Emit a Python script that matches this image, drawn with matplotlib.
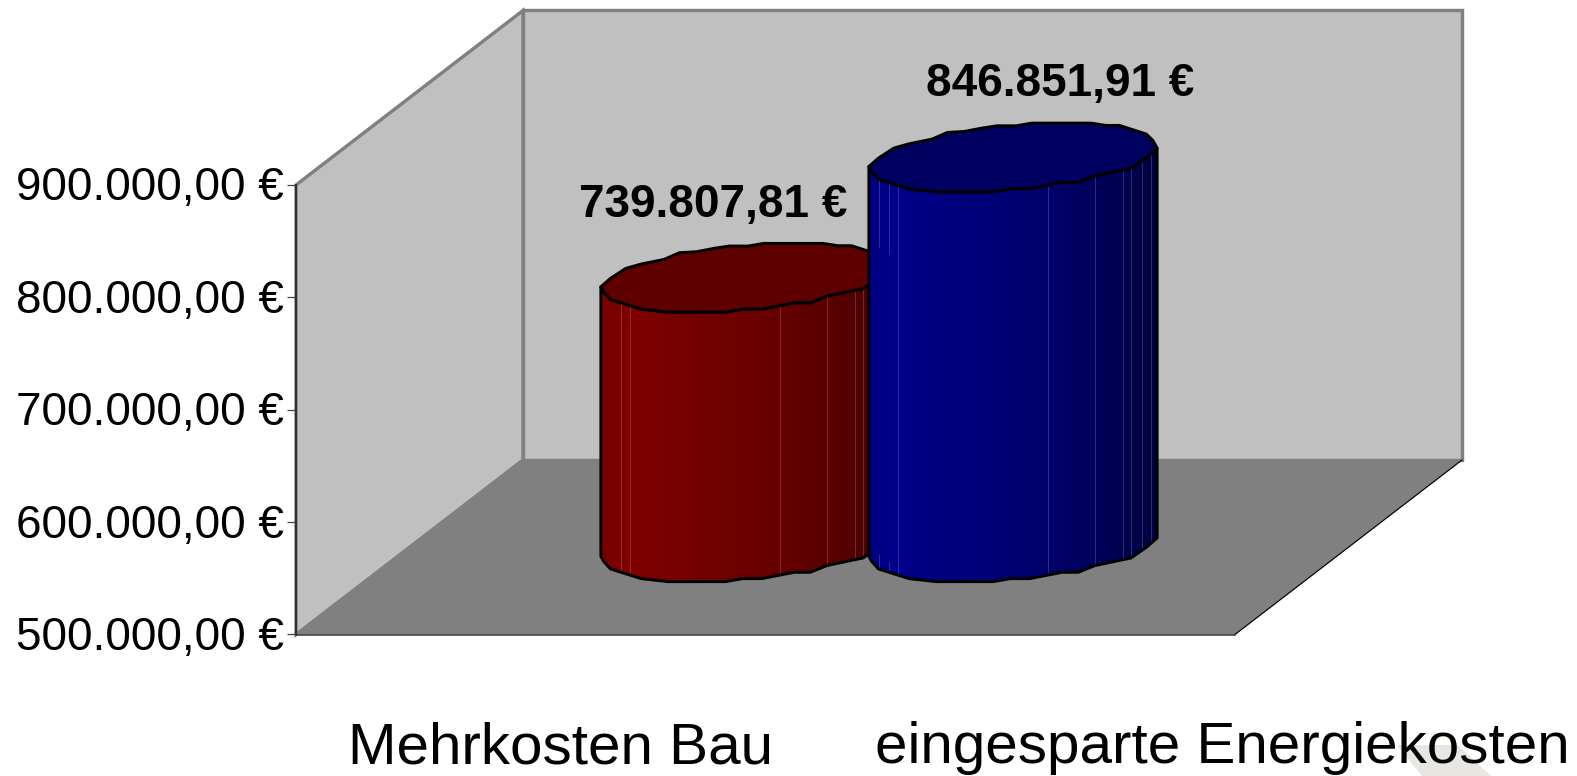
import numpy as np
import matplotlib
matplotlib.use("Agg")
import matplotlib.pyplot as plt
from matplotlib.colors import LinearSegmentedColormap
from matplotlib.patches import Polygon
from matplotlib.transforms import ScaledTranslation

plt.rcParams['font.family'] = ['Liberation Sans', 'DejaVu Sans']

# --- data -----------------------------------------------------------------
categories = ["Mehrkosten Bau", "eingesparte Energiekosten"]
values = [739807.81, 846851.91]
value_labels = ["739.807,81 €", "846.851,91 €"]
y_ticks = [500000, 600000, 700000, 800000, 900000]
y_tick_labels = ["500.000,00 €", "600.000,00 €", "700.000,00 €", "800.000,00 €", "900.000,00 €"]

# --- layout (pixels of the 1577x776 canvas) -------------------------------
W, H = 1577, 776
LEFT, RIGHT, TOP, BOTTOM = 296, 1235, 185, 634.5
DEPTH_X, DEPTH_Y = 227, 174.5
CENTERS = [745, 1013]
LABEL_POS = [(713, 205), (1060, 84)]
CAT_X = [560, 1222]
SHADES = [
    [(0, '#780000'), (0.1, '#800000'), (0.62, '#660000'), (0.88, '#520000'), (1, '#400000')],
    [(0, '#000084'), (0.1, '#00008a'), (0.62, '#00006a'), (0.88, '#000052'), (1, '#000040')],
]
TOP_COLORS = ['#5f0000', '#000060']
# irregular cylinder rim (zoomed crop units)
RIM = np.array([(755,170),(762,185),(780,208),(860,237),(930,246),(1080,246),(1125,237),(1175,237),
                (1260,218),(1302,218),(1345,198),(1440,175),(1480,143),(1508,115),
                (1497,92),(1480,73),(1410,47),(1375,47),(1335,40),(1180,40),(1140,48),(1090,48),
                (1050,55),(1005,65),(960,68),(920,88),(860,102),(820,115),(780,145)], float)
N_FRONT = 14  # the first points form the front edge
RIM_X = (RIM[:, 0] - 1131.5) / 2.613
RIM_Y = (143 - RIM[:, 1]) / 3
FACETS = [27, 52, 75, 467, 590, 663, 686, 713, 736]

fig = plt.figure(figsize=(W / 100, H / 100), dpi=100, facecolor='white')
ax = fig.add_axes([LEFT / W, 1 - BOTTOM / H, (RIGHT - LEFT) / W, (BOTTOM - TOP) / H])
ax.set_facecolor('none')
xlim = (LEFT, RIGHT)
ylim = (y_ticks[0], y_ticks[-1])
EUR_PER_PX = (ylim[1] - ylim[0]) / (BOTTOM - TOP)


def up(value, px):
    """value shifted up by a number of pixels"""
    return value + px * EUR_PER_PX


px2pt = 72 / 100
vmin, vmax = ylim

# watermark in the corner
fig.add_artist(Polygon([(1397 / W, 1 - 745 / H), (1458 / W, 1 - 745 / H), (1491 / W, 1 - 776 / H),
                        (1422 / W, 1 - 776 / H)], closed=True, fc='#e8e6e1', ec='none',
                       transform=fig.transFigure, zorder=0))

# walls and floor
bl = (LEFT, vmin)
tl = (LEFT, vmax)
bb = (LEFT + DEPTH_X, up(vmin, DEPTH_Y))
tb = (LEFT + DEPTH_X, up(vmax, DEPTH_Y))
br = (RIGHT + DEPTH_X, up(vmin, DEPTH_Y))
tr = (RIGHT + DEPTH_X, up(vmax, DEPTH_Y))
fr = (RIGHT, vmin)
kw = dict(clip_on=False, joinstyle='miter')
ax.add_patch(Polygon([bb, tb, tr, br], fc='#c0c0c0', ec='#808080', lw=3.4 * px2pt, zorder=1, **kw))
ax.add_patch(Polygon([bl, tl, tb, bb], fc='#c0c0c0', ec='#808080', lw=3.4 * px2pt, zorder=1.1, **kw))
ax.add_patch(Polygon([bl, bb, br, fr], fc='#808080', ec='none', zorder=1.2, **kw))
ax.plot([fr[0], br[0]], [fr[1], br[1]], color='black', lw=1.2 * px2pt, clip_on=False, zorder=1.3)

# cylinders
for i, (cx, val) in enumerate(zip(CENTERS, values)):
    z = 3 + i
    top_c = up(val, DEPTH_Y / 2)
    bot_c = up(vmin, DEPTH_Y / 2)
    fx = cx + RIM_X[:N_FRONT]
    fy = RIM_Y[:N_FRONT]
    body = np.vstack([np.column_stack([fx, up(top_c, fy)]),
                      np.column_stack([fx[::-1], up(bot_c, fy[::-1])])])
    cmap = LinearSegmentedColormap.from_list(f's{i}', SHADES[i])
    im = ax.imshow(np.linspace(0, 1, 300)[None, :], cmap=cmap, vmin=0, vmax=1, aspect='auto',
                   extent=[fx[0], fx[-1], bot_c - 40 * EUR_PER_PX, top_c + 40 * EUR_PER_PX],
                   interpolation='bilinear', zorder=z)
    clip = Polygon(body, closed=True, transform=ax.transData)
    im.set_clip_box(fig.bbox)
    im.set_clip_path(clip)
    # faint facet lines
    for off in FACETS:
        x = fx[0] + off / 2.613
        if i == 0 and off == FACETS[0]:
            continue
        y0 = up(top_c, np.interp(x, fx, fy))
        y1 = up(bot_c, np.interp(x, fx, fy))
        if i == 1 and off in FACETS[:2]:
            # the two left lines are broken on the blue body
            gap = 14 if off == FACETS[0] else 10
            ax.plot([x, x], [y0, up(y0, -68 if off == FACETS[0] else -72)], color='white', alpha=0.22,
                    lw=0.8 * px2pt, clip_on=False, zorder=z + 0.1)
            ax.plot([x, x], [up(y1, gap), y1], color='white', alpha=0.22,
                    lw=0.8 * px2pt, clip_on=False, zorder=z + 0.1)
        else:
            ax.plot([x, x], [y0, y1], color='white', alpha=0.22,
                    lw=0.8 * px2pt, clip_on=False, zorder=z + 0.1)
    # body outline and top
    ax.add_patch(Polygon(body, closed=True, fc='none', ec='black', lw=3 * px2pt,
                         clip_on=False, zorder=z + 0.2, joinstyle='round'))
    ax.add_patch(Polygon(np.column_stack([cx + RIM_X, up(top_c, RIM_Y)]), closed=True,
                         fc=TOP_COLORS[i], ec='black', lw=3 * px2pt,
                         clip_on=False, zorder=z + 0.3, joinstyle='round'))

# value labels
for (lx, ly), txt in zip(LABEL_POS, value_labels):
    ax.text(lx, up(vmin, BOTTOM - ly), txt, ha='center', va='center', fontsize=33,
            fontweight='bold', color='black', zorder=10, clip_on=False)

# axes
ax.set_xlim(*xlim)
ax.set_ylim(*ylim)
ax.set_yticks(y_ticks)
ax.set_yticklabels(y_tick_labels, fontsize=33, color='black')
ax.set_xticks(CAT_X)
ax.set_xticklabels(categories, fontsize=42, color='black')
ax.tick_params(axis='y', length=9 * px2pt, width=1.2 * px2pt, color='#404040', pad=2.2)
ax.tick_params(axis='x', length=0, pad=62.5)
shift = ScaledTranslation(0, 1.5 / 100, fig.dpi_scale_trans)
for lab in ax.get_yticklabels():
    lab.set_transform(lab.get_transform() + shift)
for s in ('top', 'right'):
    ax.spines[s].set_visible(False)
ax.spines['left'].set_linewidth(2 * px2pt)
ax.spines['left'].set_color('#303030')
ax.spines['bottom'].set_linewidth(1.5 * px2pt)
ax.spines['bottom'].set_color('#303030')

fig.savefig('out.png', dpi=100, facecolor='white')
